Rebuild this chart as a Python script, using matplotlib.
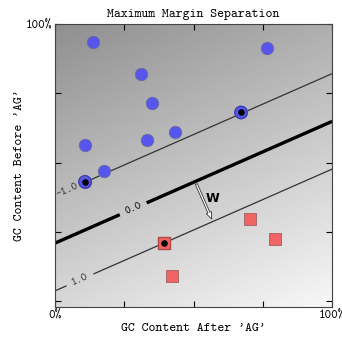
import numpy as np
import matplotlib
matplotlib.use("Agg")
import matplotlib.pyplot as plt

plt.rcParams['font.family'] = ['cmtt10', 'DejaVu Sans']
plt.rcParams['axes.unicode_minus'] = False

# data points (fraction of GC content)
blue_x = [0.137, 0.310, 0.350, 0.765, 0.671, 0.108, 0.332, 0.433, 0.177, 0.108]
blue_y = [0.935, 0.819, 0.714, 0.913, 0.681, 0.565, 0.580, 0.609, 0.471, 0.431]
red_x = [0.704, 0.794, 0.394, 0.422]
red_y = [0.297, 0.225, 0.210, 0.091]
blue_sv = [4, 9]
red_sv = [2]

# separating hyperplane f = w.x + b
w = [2.55, -5.81]
b = 1.22
levels = [-1.0, 0.0, 1.0]

xticks = [0, 0.25, 0.5, 0.75, 1.0]
xticklabels = ['0%', '', '', '', '100%']
yticks = [0, 0.25, 0.5, 0.75, 1.0]
yticklabels = ['', '', '', '', '100%']

fig = plt.figure(figsize=(3.42, 3.38), dpi=100)
ax = fig.add_axes([0.161, 0.092, 0.81, 0.837])

xx, yy = np.meshgrid(np.linspace(0, 1, 300), np.linspace(-0.02, 1, 300))
ff = w[0] * xx + w[1] * yy + b
ax.imshow(ff, extent=[0, 1, -0.02, 1], origin='lower', aspect='auto',
          cmap='gray', vmin=-16.2, vmax=4.5, zorder=0)

cs = ax.contour(xx, yy, ff, levels=levels, colors=['#333333', 'black', '#333333'],
                linewidths=[0.9, 2.4, 0.9], zorder=1)
ax.clabel(cs, fmt='%.1f', fontsize=8, inline=True, inline_spacing=6,
          manual=[(0.043, 0.40), (0.282, 0.334), (0.09, 0.077)])

ax.scatter(blue_x, blue_y, s=80, c='#5656ee', edgecolors='#6a6aa0', linewidths=0.6, zorder=3)
ax.scatter(red_x, red_y, s=70, marker='s', c='#f06464', edgecolors='#a06060', linewidths=0.6, zorder=3)
ax.scatter([blue_x[i] for i in blue_sv], [blue_y[i] for i in blue_sv], s=80,
           facecolors='none', edgecolors='#3c3cb8', linewidths=1.0, zorder=4)
ax.scatter([red_x[i] for i in red_sv], [red_y[i] for i in red_sv], s=70, marker='s',
           facecolors='none', edgecolors='#b04848', linewidths=1.0, zorder=4)
ax.scatter([blue_x[i] for i in blue_sv] + [red_x[i] for i in red_sv],
           [blue_y[i] for i in blue_sv] + [red_y[i] for i in red_sv],
           s=14, c='black', zorder=5)

# margin arrow from the 0 line to the +1 line
n2 = w[0] ** 2 + w[1] ** 2
x0 = 0.506
p0 = (x0, -(w[0] * x0 + b) / w[1])
p1 = (p0[0] + w[0] / n2, p0[1] + w[1] / n2)
ax.annotate('', xy=p1, xytext=p0,
            arrowprops=dict(arrowstyle='simple,head_width=0.4,head_length=0.5,tail_width=0.15',
                            fc='white', ec='#333333', lw=0.6), zorder=4)
ax.text(0.545, 0.36, 'W', fontsize=9, fontweight='bold', family='DejaVu Sans', zorder=5)

ax.set_xlim(0, 1)
ax.set_ylim(-0.02, 1)
ax.set_xticks(xticks)
ax.set_xticklabels(xticklabels, fontsize=9)
ax.set_yticks(yticks)
ax.set_yticklabels(yticklabels, fontsize=9)
ax.tick_params(direction='in', top=True, right=True, length=4, pad=2)
for s in ax.spines.values():
    s.set_color('#444444')

ax.set_title('Maximum Margin Separation', fontsize=9.5, pad=5)
ax.set_xlabel("GC Content After 'AG'", fontsize=9.5, labelpad=2)
ax.set_ylabel("GC Content Before 'AG'", fontsize=9.5, labelpad=1)

fig.savefig('out.png', dpi=100)
